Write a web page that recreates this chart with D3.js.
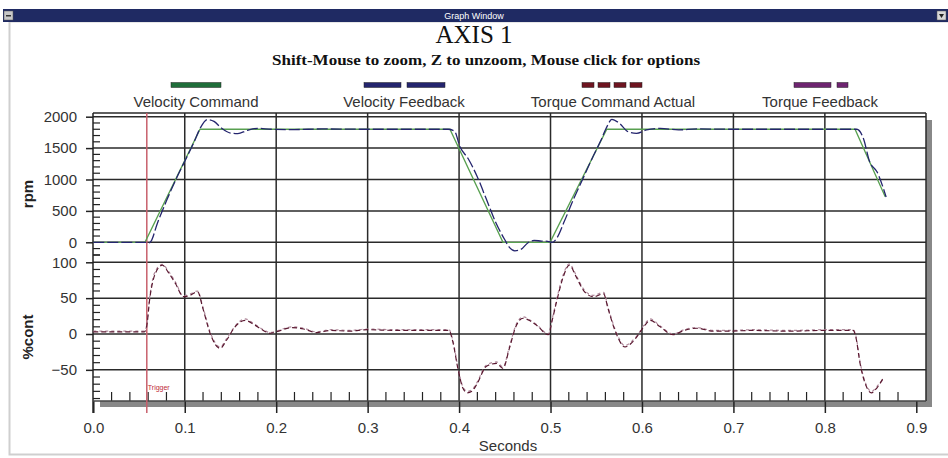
<!DOCTYPE html>
<html>
<head>
<meta charset="utf-8">
<script src="https://cdn.jsdelivr.net/npm/d3@7"></script>
<style>
  body { margin: 0; background: #fff; }
  svg { display: block; font-family: "Liberation Sans", Arial, sans-serif; }
</style>
</head>
<body>
<svg id="chart" width="948" height="458"></svg>
<script>
// series: [seconds, value]
var velocityCommand = [[0,0],[0.0565,0],[0.1167,1800],[0.390,1800],[0.448,0],[0.4995,0],[0.5615,1800],[0.833,1800],[0.866,726]];

var velocityFeedback = [[0,0],[0.057,0],[0.060,-15],[0.063,15],[0.070,300],[0.080,660],[0.090,990],[0.100,1290],[0.110,1590],[0.117,1820],
  [0.1247,1955],[0.132,1925],[0.140,1820],[0.150,1740],[0.158,1730],[0.168,1780],[0.180,1815],[0.195,1800],[0.22,1795],[0.25,1805],
  [0.30,1800],[0.35,1800],[0.388,1800],[0.395,1770],[0.401,1520],[0.410,1330],[0.420,1040],[0.430,680],[0.440,320],[0.450,40],
  [0.455,-80],[0.461,-135],[0.468,-110],[0.475,-10],[0.482,30],[0.490,20],[0.497,15],[0.502,0],[0.507,70],[0.515,330],
  [0.525,680],[0.535,1000],[0.545,1320],[0.555,1620],[0.562,1850],[0.567,1958],[0.575,1900],[0.585,1760],[0.594,1735],[0.605,1790],
  [0.62,1815],[0.64,1790],[0.66,1805],[0.70,1800],[0.75,1800],[0.80,1800],[0.835,1800],[0.842,1660],[0.849,1283],[0.857,1124],[0.867,721]];

var torqueCommand = [[0,3],[0.0558,3],[0.058,8],[0.062,52],[0.068,85],[0.0755,96],[0.082,86],[0.090,70],[0.0985,52],[0.106,54],
  [0.114,59],[0.120,35],[0.128,0],[0.1386,-20],[0.146,-8],[0.155,10],[0.166,19],[0.176,13],[0.186,5],[0.193,1],[0.200,3],
  [0.217,9],[0.230,7],[0.244,2],[0.26,5],[0.28,4],[0.30,6],[0.33,5],[0.36,5],[0.389,5],[0.393,-10],[0.399,-50],[0.404,-75],
  [0.409,-82],[0.414,-80],[0.419,-71],[0.430,-45],[0.441,-41],[0.448,-48],[0.455,-20],[0.462,10],[0.470,22],[0.478,18],[0.485,12],
  [0.4976,-1],[0.502,20],[0.507,47],[0.514,80],[0.5205,96],[0.528,80],[0.536,61],[0.547,52],[0.558,56],[0.563,35],[0.5705,5],
  [0.5815,-18],[0.589,-12],[0.596,-1],[0.603,12],[0.609,19],[0.620,10],[0.634,-1],[0.646,5],[0.660,8],[0.678,4],[0.696,4],
  [0.72,5],[0.76,4],[0.80,5],[0.831,5],[0.834,-5],[0.8385,-41],[0.845,-72],[0.851,-82],[0.857,-75],[0.864,-61]];

var torqueFeedback = [[0,4],[0.0558,4],[0.058,10],[0.062,55],[0.068,88],[0.0755,97],[0.082,88],[0.090,72],[0.0985,53],[0.106,56],
  [0.114,60],[0.120,37],[0.128,2],[0.1386,-18],[0.146,-6],[0.155,11],[0.166,21],[0.176,14],[0.186,6],[0.193,2],[0.200,4],
  [0.217,10],[0.230,8],[0.244,3],[0.26,6],[0.28,5],[0.30,7],[0.33,6],[0.36,6],[0.389,6],[0.393,-8],[0.399,-48],[0.404,-73],
  [0.409,-80],[0.414,-78],[0.419,-69],[0.430,-43],[0.441,-39],[0.448,-46],[0.455,-18],[0.462,12],[0.470,24],[0.478,19],[0.485,13],
  [0.4976,0],[0.502,22],[0.507,50],[0.514,83],[0.5205,98],[0.528,82],[0.536,63],[0.547,54],[0.558,58],[0.563,37],[0.5705,7],
  [0.5815,-16],[0.589,-10],[0.596,0],[0.603,14],[0.609,21],[0.620,11],[0.634,0],[0.646,6],[0.660,9],[0.678,5],[0.696,5],
  [0.72,6],[0.76,5],[0.80,6],[0.831,6],[0.834,-3],[0.8385,-39],[0.845,-70],[0.851,-80],[0.857,-73],[0.864,-63]];

var legendNames = ["Velocity Command", "Velocity Feedback", "Torque Command Actual", "Torque Feedback"];
var secondsTicks = [0, 0.1, 0.2, 0.3, 0.4, 0.5, 0.6, 0.7, 0.8, 0.9];
var rpmTicks = [0, 500, 1000, 1500, 2000];
var contTicks = [-50, 0, 50, 100];
var triggerTime = 0.0585;

var svg = d3.select("#chart");

var gauche = 93, droite = 926, haut = 113, bas = 401;

var x = d3.scaleLinear().domain([0, 0.9]).range([93.3, 916.3]);
var yVel = d3.scaleLinear().domain([0, 2000]).range([242.3, 116.7]);
var yTq = d3.scaleLinear().domain([0, 100]).range([334, 262.3]);

// window frame
svg.append("rect").attr("x", 9.5).attr("y", 21.5).attr("width", 940).attr("height", 433)
  .style("fill", "#fff").style("stroke", "#cfcfcf").style("stroke-width", 2);
svg.append("rect").attr("x", 3).attr("y", 9).attr("width", 945).attr("height", 13).style("fill", "#1f2a63");
svg.append("rect").attr("x", 4).attr("y", 11).attr("width", 9).attr("height", 9).style("fill", "#c8c8c8").style("stroke", "#555").style("stroke-width", 0.5);
svg.append("rect").attr("x", 6).attr("y", 15).attr("width", 5).attr("height", 1.5).style("fill", "#333");
svg.append("rect").attr("x", 937).attr("y", 11).attr("width", 9).attr("height", 9).style("fill", "#d8d8d8").style("stroke", "#555").style("stroke-width", 0.5);
svg.append("path").attr("d", "M939,14 L944,14 L941.5,18 Z").style("fill", "#222");
svg.append("text").attr("x", 474).attr("y", 18.5).attr("text-anchor", "middle")
  .style("font-size", "9px").style("fill", "#fff").text("Graph Window");

// titles
svg.append("text").attr("x", 474).attr("y", 43).attr("text-anchor", "middle")
  .style("font-family", "'Liberation Serif', 'Times New Roman', serif").style("font-size", "25px").style("fill", "#111")
  .text("AXIS 1");
svg.append("text").attr("x", 272).attr("y", 65)
  .attr("textLength", 428).attr("lengthAdjust", "spacingAndGlyphs")
  .style("font-family", "'Liberation Serif', 'Times New Roman', serif").style("font-size", "15px").style("font-weight", "bold").style("fill", "#111")
  .text("Shift-Mouse to zoom, Z to unzoom, Mouse click for options");

// legend
var legendX = [196, 404, 613, 820];
var legendColors = ["#1f6e3a", "#24256e", "#6e1420", "#6e2470"];
var legendDash = [[[-25, 50]], [[-40, 37], [3, 38]], [[-31, 12], [-15, 12], [1, 12], [17, 12]], [[-26, 37], [17, 11]]];
legendNames.forEach(function(nom, i) {
  legendDash[i].forEach(function(seg) {
    svg.append("rect").attr("x", legendX[i] + seg[0]).attr("y", 82.5).attr("width", seg[1]).attr("height", 5)
      .style("fill", legendColors[i]).style("stroke", "#222").style("stroke-width", 0.5);
  });
  svg.append("text").attr("x", legendX[i]).attr("y", 107).attr("text-anchor", "middle")
    .style("font-size", "15px").style("fill", "#333").text(nom);
});

// plot shadow + box
svg.append("rect").attr("x", 100).attr("y", bas).attr("width", 832).attr("height", 6).style("fill", "#888");
svg.append("rect").attr("x", droite).attr("y", 120).attr("width", 6).attr("height", bas - 120 + 6).style("fill", "#888");
svg.append("rect").attr("x", gauche).attr("y", haut).attr("width", droite - gauche).attr("height", bas - haut).style("fill", "#fff");

var grille = svg.append("g").style("stroke", "#2a2a2a").style("stroke-width", 1.5);
grille.selectAll(".hv").data(rpmTicks).enter().append("line")
  .attr("x1", gauche).attr("x2", droite).attr("y1", function(d){return yVel(d);}).attr("y2", function(d){return yVel(d);});
grille.selectAll(".ht").data(contTicks).enter().append("line")
  .attr("x1", gauche).attr("x2", droite).attr("y1", function(d){return yTq(d);}).attr("y2", function(d){return yTq(d);});
grille.selectAll(".vv").data(secondsTicks.filter(function(d){return d > 0 && d < 0.85;})).enter().append("line")
  .attr("x1", function(d){return x(d);}).attr("x2", function(d){return x(d);}).attr("y1", haut).attr("y2", bas);
grille.append("line").attr("x1", gauche).attr("x2", droite).attr("y1", haut).attr("y2", haut);
grille.append("line").attr("x1", droite).attr("x2", droite).attr("y1", haut).attr("y2", bas);

// minor ticks
var mineur = svg.append("g").style("stroke", "#222").style("stroke-width", 1.2);
var velMinor = d3.range(-200, 2001, 100).filter(function(d){return d % 500 !== 0;});
var tqMinor = d3.range(-90, 111, 10).filter(function(d){return d % 50 !== 0;});
mineur.selectAll(".mv").data(velMinor).enter().append("line")
  .attr("x1", gauche).attr("x2", gauche + 7).attr("y1", function(d){return yVel(d);}).attr("y2", function(d){return yVel(d);});
mineur.selectAll(".mt").data(tqMinor).enter().append("line")
  .attr("x1", gauche).attr("x2", gauche + 7).attr("y1", function(d){return yTq(d);}).attr("y2", function(d){return yTq(d);});
mineur.selectAll(".mx").data(d3.range(0.02, 0.9, 0.02).filter(function(d){return Math.abs(d * 10 - Math.round(d * 10)) > 0.01;})).enter().append("line")
  .attr("x1", function(d){return x(d);}).attr("x2", function(d){return x(d);}).attr("y1", bas - 9).attr("y2", bas);

// axes
function styleAxe(g) {
  g.select(".domain").remove();
  g.selectAll(".tick line").style("stroke", "#222").style("stroke-width", 1.5);
  g.selectAll(".tick text").style("font-size", "15px").style("fill", "#333").style("font-family", "'Liberation Sans', Arial, sans-serif");
}
svg.append("g").attr("transform", "translate(" + gauche + ",0)")
  .call(d3.axisLeft(yVel).tickValues(rpmTicks).tickFormat(d3.format("d")).tickSize(7).tickPadding(9)).call(styleAxe);
svg.append("g").attr("transform", "translate(" + gauche + ",0)")
  .call(d3.axisLeft(yTq).tickValues(contTicks).tickFormat(d3.format("d")).tickSize(7).tickPadding(9)).call(styleAxe);
svg.append("g").attr("transform", "translate(0," + bas + ")")
  .call(d3.axisBottom(x).tickValues(secondsTicks).tickFormat(d3.format(".1f")).tickSize(12).tickPadding(9)).call(styleAxe);
svg.append("line").attr("x1", gauche).attr("x2", gauche).attr("y1", haut).attr("y2", bas + 12).style("stroke", "#222").style("stroke-width", 1.5);
svg.append("line").attr("x1", gauche).attr("x2", droite).attr("y1", bas).attr("y2", bas).style("stroke", "#444").style("stroke-width", 1.5);

svg.append("text").attr("transform", "translate(33,194) rotate(-90)").attr("text-anchor", "middle")
  .style("font-size", "15px").style("font-weight", "bold").style("fill", "#222").text("rpm");
svg.append("text").attr("transform", "translate(33,337) rotate(-90)").attr("text-anchor", "middle")
  .style("font-size", "15px").style("font-weight", "bold").style("fill", "#222").text("%cont");
svg.append("text").attr("x", 508).attr("y", 451).attr("text-anchor", "middle")
  .style("font-size", "15px").style("fill", "#333").text("Seconds");

// trigger
svg.append("line").attr("x1", x(triggerTime)).attr("x2", x(triggerTime)).attr("y1", haut).attr("y2", bas + 12)
  .style("stroke", "#c8606c").style("stroke-width", 1.5);
svg.append("text").attr("x", x(triggerTime) + 1).attr("y", 390).style("font-size", "7px").style("fill", "#c02a3a").text("Trigger");

// traces
var ligneVel = d3.line().x(function(d){return x(d[0]);}).y(function(d){return yVel(d[1]);}).curve(d3.curveMonotoneX);
var ligneTq = d3.line().x(function(d){return x(d[0]);}).y(function(d){return yTq(d[1]);}).curve(d3.curveMonotoneX);

svg.append("path").datum(velocityCommand).attr("d", d3.line().x(function(d){return x(d[0]);}).y(function(d){return yVel(d[1]);}))
  .style("fill", "none").style("stroke", "#58a050").style("stroke-width", 1.3);
svg.append("path").datum(velocityFeedback).attr("d", ligneVel)
  .style("fill", "none").style("stroke", "#24256e").style("stroke-width", 1.3).style("stroke-dasharray", "11,3");
svg.append("path").datum(torqueFeedback).attr("d", ligneTq)
  .style("fill", "none").style("stroke", "#b08a9c").style("stroke-width", 1.2).style("stroke-dasharray", "3,3");
svg.append("path").datum(torqueCommand).attr("d", ligneTq)
  .style("fill", "none").style("stroke", "#5a1830").style("stroke-width", 1.2).style("stroke-dasharray", "5,3");
</script>
</body>
</html>
